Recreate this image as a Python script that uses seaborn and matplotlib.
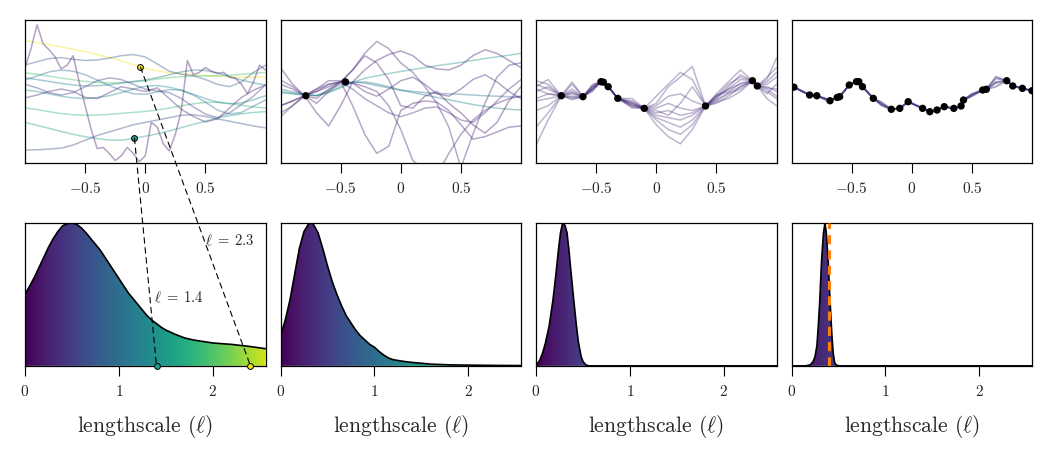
import numpy as np
import matplotlib
matplotlib.use("Agg")
import matplotlib.pyplot as plt
from matplotlib.patches import ConnectionPatch
import seaborn as sns

## data

grid21 = np.linspace(-1, 1, 21)
grid41 = np.linspace(-1, 1, 41)

# panel 1: prior samples, each with its own lengthscale
p1_ells = [2.4, 1.4, 1.7, 1.6, 1.2, 0.9, 0.7, 0.5, 0.6, 0.3, 1.0]
p1_lines = [
    [2.13, 2.05, 1.96, 1.87, 1.77, 1.67, 1.55, 1.42, 1.29, 1.12, 0.96, 0.86, 0.79, 0.74, 0.70, 0.67, 0.64, 0.62, 0.60, 0.60, 0.60],
    [-1.30, -1.42, -1.55, -1.68, -1.80, -1.90, -1.98, -2.04, -2.05, -1.97, -1.88, -1.78, -1.66, -1.52, -1.38, -1.25, -1.12, -1.02, -0.94, -0.88, -0.85],
    [0.78, 0.72, 0.64, 0.56, 0.49, 0.42, 0.38, 0.36, 0.37, 0.40, 0.45, 0.52, 0.58, 0.62, 0.64, 0.65, 0.66, 0.68, 0.72, 0.76, 0.80],
    [-0.69, -0.76, -0.85, -0.93, -0.98, -1.00, -0.99, -0.96, -0.92, -0.88, -0.84, -0.78, -0.70, -0.60, -0.52, -0.46, -0.45, -0.50, -0.58, -0.65, -0.70],
    [0.06, 0.00, -0.10, -0.20, -0.27, -0.30, -0.26, -0.18, -0.05, 0.10, 0.22, 0.25, 0.18, 0.05, -0.12, -0.30, -0.45, -0.52, -0.48, -0.35, -0.18],
    [0.48, 0.65, 0.82, 0.90, 0.85, 0.70, 0.48, 0.25, 0.05, -0.10, -0.12, -0.02, 0.08, 0.05, -0.15, -0.45, -0.78, -0.95, -0.88, -0.62, -0.36],
    [1.11, 1.25, 1.38, 1.42, 1.35, 1.30, 1.32, 1.40, 1.50, 1.55, 1.45, 1.15, 0.85, 0.72, 0.66, 0.50, 0.30, 0.20, 0.40, 0.80, 1.10],
    [0.30, 0.15, -0.05, -0.15, -0.05, 0.20, 0.45, 0.57, 0.50, 0.30, 0.10, 0.02, -0.05, -0.30, -0.65, -0.95, -1.10, -0.90, -0.55, -0.20, 0.28],
    [-2.46, -2.45, -2.42, -2.38, -2.25, -2.05, -1.85, -1.70, -1.55, -1.40, -1.30, -1.20, -1.10, -1.00, -0.98, -1.05, -1.15, -1.25, -1.35, -1.45, -1.53],
    [-0.27, -0.15, 0.00, 0.10, 0.00, -0.25, -0.30, -0.05, 0.20, 0.10, 0.00, 0.15, -0.30, -0.75, -1.05, -1.28, -1.15, -0.70, -0.25, 0.05, 0.27],
    [0.57, 0.50, 0.42, 0.34, 0.27, 0.23, 0.24, 0.28, 0.35, 0.42, 0.48, 0.58, 0.70, 0.82, 0.90, 0.88, 0.78, 0.62, 0.48, 0.36, 0.27],
]
p1_wiggly_ell = 0.15
p1_wiggly = [1.00, 1.80, 2.80, 2.00, 1.75, 1.45, 0.95, 1.10, 1.50, 0.40, -0.60, -1.60, -2.40, -2.35,
             -2.60, -2.90, -2.70, -2.35, -2.60, -2.95, -2.70, -1.30, -1.50, -2.20, -2.50, -1.80, -0.80,
             1.30, 0.70, 0.80, 1.00, 0.85, 0.75, 0.80, 0.60, 0.55, 0.30, -0.10, 0.40, 1.10, 0.90]

# highlighted samples and their lengthscales
hl_ell = [1.4, 2.4]
hl_x = [-0.09, -0.04]
hl_y = [-1.96, 1.02]
hl_text = [r"$\ell\;=\;1.4$", r"$\ell\;=\;2.3$"]
hl_text_pos = [(1.37, 0.48), (1.92, 0.874)]

# panel 2: two observations
p2_x = [-0.79, -0.46]
p2_y = [-0.18, 0.40]
p2_ells = [1.3, 1.1, 0.9, 0.25, 0.3, 0.25, 0.2, 0.2, 0.25, 0.35]
p2_lines = [
    [-0.05, -0.10, -0.15, -0.17, -0.05, 0.15, 0.38, 0.55, 0.65, 0.75, 0.84, 0.92, 1.00, 1.08, 1.15, 1.22, 1.30, 1.38, 1.45, 1.52, 1.60],
    [0.00, -0.08, -0.15, -0.18, -0.02, 0.20, 0.38, 0.40, 0.32, 0.20, 0.06, -0.05, -0.15, -0.25, -0.35, -0.45, -0.55, -0.63, -0.70, -0.75, -0.78],
    [0.10, -0.02, -0.12, -0.18, 0.05, 0.30, 0.40, 0.35, 0.25, 0.15, 0.05, 0.00, -0.05, -0.08, -0.10, -0.12, -0.15, -0.18, -0.20, -0.22, -0.22],
    [-0.60, -0.40, -0.18, 0.10, 0.45, 0.45, 0.35, 0.20, 0.00, -0.60, -1.60, -2.90, -3.30, -3.50, -2.60, -1.80, -1.20, -0.80, -0.50, -0.30, -0.20],
    [0.30, 0.10, -0.18, 0.00, 0.30, 0.40, 0.90, 1.60, 2.10, 1.80, 1.20, 0.80, 0.20, -0.50, -1.50, -3.20, -1.80, -0.50, 0.60, 1.10, 1.20],
    [-0.90, -0.60, -0.18, -0.50, 0.00, 0.40, -0.60, -1.80, -2.60, -2.30, -0.80, -0.50, -0.40, -0.45, -0.80, -1.40, -2.00, -1.90, -1.70, -1.50, -1.45],
    [1.00, 0.30, -0.18, -0.90, -1.45, -0.60, 0.40, 0.90, 1.30, 1.55, 1.70, 1.50, 1.10, 0.95, 0.90, 1.10, 1.50, 1.75, 1.60, 1.30, 1.00],
    [-0.60, -0.40, -0.18, 0.00, 0.20, 0.40, 0.90, 1.50, 1.20, 0.50, -0.60, -0.70, -0.20, 0.00, -0.50, -0.90, -1.40, -1.75, -1.30, -0.40, 0.20],
    [0.48, 0.20, -0.18, -0.30, 0.10, 0.40, 0.35, 0.00, -0.20, 0.10, 0.45, 0.60, 0.30, -0.10, -0.20, 0.10, 0.50, 0.70, 0.40, 0.00, -0.30],
    [-1.06, -0.60, -0.18, 0.10, 0.30, 0.40, 0.10, -0.30, -0.60, -0.90, -1.06, -0.90, -0.70, -0.65, -0.90, -1.20, -1.30, -0.90, -0.40, 0.10, 0.50],
]

# panel 3: ten observations
p3_x = [-0.79, -0.61, -0.46, -0.44, -0.40, -0.32, -0.10, 0.41, 0.80, 0.84]
p3_y = [-0.18, -0.22, 0.41, 0.39, 0.20, -0.29, -0.71, -0.61, 0.45, 0.23]
grid3 = [-1.0, -0.9, -0.79, -0.7, -0.61, -0.53, -0.46, -0.4, -0.32, -0.2, -0.1, 0.0,
         0.1, 0.2, 0.3, 0.41, 0.5, 0.6, 0.7, 0.8, 0.84, 0.92, 1.0]
p3_ell = 0.3
p3_lines = [
    [-2.25, -1.2, -0.18, -0.35, -0.22, 0.1, 0.41, 0.2, -0.29, -0.6, -0.71, -1.4, -1.9, -2.2, -1.6, -0.61, -0.2, 0.1, 0.3, 0.45, 0.23, 0.5, 1.4],
    [0.45, 0.3, -0.18, 0.3, -0.22, 0.2, 0.41, 0.2, -0.29, -0.4, -0.71, -0.5, 0.2, 0.6, 1.05, -0.61, -0.5, -0.2, 0.2, 0.45, 0.23, -0.3, -0.6],
    [-0.3, -0.1, -0.18, -0.05, -0.22, 0.15, 0.41, 0.2, -0.29, -0.7, -0.71, -1.1, -1.3, -1.5, -1.2, -0.61, -0.1, 0.4, 0.9, 0.45, 0.23, 0.3, 0.6],
    [0.2, 0.5, -0.18, 0.4, -0.22, 0.0, 0.41, 0.2, -0.29, -0.3, -0.71, -0.2, 0.3, 0.8, 0.5, -0.61, -0.4, -0.1, 0.1, 0.45, 0.23, 0.0, -0.3],
    [-0.8, -0.6, -0.18, -0.3, -0.22, 0.25, 0.41, 0.2, -0.29, -0.5, -0.71, -0.9, -0.8, -1.0, -0.9, -0.61, -0.35, -0.05, 0.2, 0.45, 0.23, 0.15, 0.1],
    [0.0, 0.2, -0.18, -0.1, -0.22, 0.1, 0.41, 0.2, -0.29, -0.55, -0.71, -0.6, -0.2, -0.1, -0.4, -0.61, -0.2, 0.3, 0.6, 0.45, 0.23, 0.6, 1.0],
    [-1.5, -0.9, -0.18, -0.2, -0.22, 0.3, 0.41, 0.2, -0.29, -0.65, -0.71, -1.2, -1.6, -1.8, -1.4, -0.61, -0.25, 0.1, 0.5, 0.45, 0.23, 0.1, -0.2],
    [0.3, 0.1, -0.18, 0.1, -0.22, 0.05, 0.41, 0.2, -0.29, -0.45, -0.71, -0.7, -0.5, -0.7, -0.8, -0.61, -0.45, -0.3, 0.0, 0.45, 0.23, 0.4, 0.8],
    [-0.4, -0.3, -0.18, 0.0, -0.22, 0.2, 0.41, 0.2, -0.29, -0.6, -0.71, -1.0, -1.1, -1.2, -1.0, -0.61, -0.3, 0.2, 0.7, 0.45, 0.23, -0.1, 0.3],
    [0.1, -0.1, -0.18, -0.25, -0.22, 0.1, 0.41, 0.2, -0.29, -0.5, -0.71, -0.8, -1.0, -0.5, 0.2, -0.61, -0.15, 0.0, 0.35, 0.45, 0.23, 0.2, 0.0],
]

# panel 4: many observations
p4_x = [-0.98, -0.85, -0.79, -0.68, -0.62, -0.60, -0.52, -0.46, -0.44, -0.41, -0.32, -0.17, -0.10, -0.03,
        0.09, 0.15, 0.21, 0.27, 0.35, 0.41, 0.43, 0.59, 0.62, 0.79, 0.84, 0.92, 1.0]
p4_y = [0.18, -0.15, -0.18, -0.39, -0.25, -0.22, 0.27, 0.41, 0.41, 0.20, -0.29, -0.75, -0.71, -0.43,
        -0.71, -0.85, -0.78, -0.64, -0.71, -0.61, -0.36, 0.06, 0.09, 0.45, 0.23, 0.13, 0.03]
grid4 = [-1.0, -0.98, -0.85, -0.79, -0.68, -0.62, -0.60, -0.52, -0.46, -0.44, -0.41, -0.32, -0.25, -0.17,
         -0.10, -0.03, 0.09, 0.15, 0.21, 0.27, 0.35, 0.41, 0.43, 0.50, 0.59, 0.62, 0.70, 0.79, 0.84, 0.92, 1.0]
p4_ell = 0.37
p4_lines = [
    [0.28, 0.18, -0.15, -0.18, -0.39, -0.25, -0.22, 0.27, 0.41, 0.41, 0.20, -0.29, -0.45, -0.75, -0.71, -0.43,
     -0.71, -0.85, -0.78, -0.64, -0.71, -0.61, -0.36, -0.20, 0.06, 0.09, 0.55, 0.45, 0.23, 0.13, 0.03],
    [0.22, 0.18, -0.15, -0.18, -0.45, -0.25, -0.22, 0.27, 0.41, 0.41, 0.20, -0.29, -0.60, -0.75, -0.71, -0.43,
     -0.71, -0.85, -0.78, -0.64, -0.71, -0.61, -0.36, -0.10, 0.06, 0.09, 0.62, 0.45, 0.23, 0.13, 0.03],
    [0.28, 0.18, -0.15, -0.18, -0.39, -0.25, -0.22, 0.27, 0.41, 0.41, 0.20, -0.29, -0.50, -0.75, -0.71, -0.43,
     -0.71, -0.85, -0.78, -0.64, -0.71, -0.61, -0.36, -0.18, 0.06, 0.09, 0.40, 0.45, 0.23, 0.13, 0.03],
    [0.30, 0.18, -0.15, -0.18, -0.35, -0.25, -0.22, 0.27, 0.41, 0.41, 0.20, -0.29, -0.55, -0.75, -0.71, -0.43,
     -0.71, -0.85, -0.78, -0.64, -0.71, -0.61, -0.36, -0.12, 0.06, 0.09, 0.20, 0.45, 0.23, 0.13, 0.03],
    [0.26, 0.18, -0.15, -0.18, -0.39, -0.25, -0.22, 0.27, 0.41, 0.41, 0.20, -0.29, -0.55, -0.75, -0.71, -0.43,
     -0.71, -0.85, -0.78, -0.64, -0.71, -0.61, -0.36, -0.15, 0.06, 0.09, 0.35, 0.45, 0.23, 0.13, 0.03],
]

# lengthscale posteriors (peak-normalised)
post_ell = [
    [0.0, 0.05, 0.1, 0.15, 0.2, 0.25, 0.3, 0.35, 0.4, 0.45, 0.5, 0.55, 0.6, 0.65, 0.7, 0.75, 0.8, 0.85, 0.9, 0.95,
     1.0, 1.05, 1.1, 1.15, 1.2, 1.25, 1.3, 1.35, 1.4, 1.45, 1.5, 1.6, 1.7, 1.8, 1.9, 2.0, 2.2, 2.4, 2.56],
    [0.0, 0.05, 0.1, 0.15, 0.2, 0.25, 0.3, 0.33, 0.35, 0.4, 0.45, 0.5, 0.55, 0.6, 0.65, 0.7, 0.75, 0.8, 0.85,
     0.9, 0.95, 1.0, 1.05, 1.1, 1.15, 1.2, 1.3, 1.4, 1.5, 1.6, 1.8, 2.0, 2.3, 2.56],
    [0.0, 0.04, 0.07, 0.1, 0.14, 0.18, 0.21, 0.24, 0.26, 0.28, 0.29, 0.31, 0.33, 0.35, 0.37, 0.40, 0.43, 0.45,
     0.48, 0.5, 0.53, 0.56, 2.56],
    [0.0, 0.15, 0.2, 0.23, 0.25, 0.27, 0.285, 0.30, 0.32, 0.34, 0.356, 0.37, 0.39, 0.41, 0.43, 0.445, 0.46,
     0.48, 0.52, 2.56],
]
post_dens = [
    [0.50, 0.56, 0.62, 0.69, 0.76, 0.83, 0.89, 0.94, 0.98, 0.995, 1.0, 0.99, 0.965, 0.93, 0.89, 0.85, 0.81,
     0.76, 0.71, 0.66, 0.61, 0.56, 0.51, 0.47, 0.43, 0.39, 0.35, 0.32, 0.295, 0.27, 0.25, 0.22, 0.195, 0.18,
     0.17, 0.16, 0.15, 0.135, 0.12],
    [0.21, 0.32, 0.46, 0.64, 0.82, 0.94, 0.995, 1.0, 0.99, 0.93, 0.82, 0.70, 0.59, 0.50, 0.42, 0.35, 0.30,
     0.25, 0.21, 0.18, 0.15, 0.13, 0.10, 0.075, 0.055, 0.043, 0.032, 0.024, 0.018, 0.012, 0.007, 0.005,
     0.003, 0.002],
    [0.0, 0.04, 0.09, 0.16, 0.28, 0.46, 0.63, 0.82, 0.93, 0.99, 1.0, 0.98, 0.93, 0.81, 0.67, 0.47, 0.28,
     0.17, 0.065, 0.03, 0.007, 0.0, 0.0],
    [0.0, 0.0, 0.007, 0.03, 0.065, 0.14, 0.28, 0.45, 0.74, 0.93, 1.0, 0.93, 0.74, 0.45, 0.21, 0.08, 0.02,
     0.003, 0.0, 0.0],
]
true_ell = 0.40

## style

sns.set_theme(style="ticks")
plt.rcParams["font.family"] = ["cmr10", "DejaVu Serif"]
plt.rcParams["mathtext.fontset"] = "cm"
plt.rcParams["axes.formatter.use_mathtext"] = True
plt.rcParams["axes.unicode_minus"] = False

cmap = plt.get_cmap("viridis")
line_norm = plt.Normalize(0, 2.45)   # colours of samples / markers
fill_norm = plt.Normalize(0, 2.75)   # gradient under the posteriors
XMAX = 2.56
TICK_FS = 11

fig, axes = plt.subplots(2, 4, figsize=(10.52, 4.5), dpi=100)
fig.subplots_adjust(left=0.0238, right=0.981, top=0.9556, bottom=0.187, wspace=0.0625, hspace=0.42)


def style_ax(ax):
    for s in ax.spines.values():
        s.set_visible(True)
        s.set_linewidth(0.9)
        s.set_color("black")
    ax.set_yticks([])
    ax.tick_params(axis="x", direction="out", length=7, width=0.8, labelsize=TICK_FS, pad=6, color="black")
    ax.set_ylabel("")


def sample_line(ax, x, y, ell, alpha=0.4, lw=1.1):
    sns.lineplot(x=x, y=y, ax=ax, color=cmap(line_norm(ell)), alpha=alpha, lw=lw, sort=False, estimator=None)


## top row: function samples
top = axes[0]
for ell, ys in zip(p1_ells, p1_lines):
    sample_line(top[0], grid21, ys, ell)
sample_line(top[0], grid41, p1_wiggly, p1_wiggly_ell)

for ell, ys in zip(p2_ells, p2_lines):
    sample_line(top[1], grid21, ys, ell)
sns.scatterplot(x=p2_x, y=p2_y, ax=top[1], color="black", s=28, edgecolor="none", zorder=5)

for ys in p3_lines:
    sample_line(top[2], grid3, ys, p3_ell, alpha=0.35)
sns.scatterplot(x=p3_x, y=p3_y, ax=top[2], color="black", s=28, edgecolor="none", zorder=5)

for ys in p4_lines:
    sample_line(top[3], grid4, ys, p4_ell, alpha=0.45, lw=1.3)
sns.scatterplot(x=p4_x, y=p4_y, ax=top[3], color="black", s=28, edgecolor="none", zorder=5)

for ax in top:
    ax.set_xlim(-1, 1)
    ax.set_ylim(-3, 3)
    ax.set_xticks([-0.5, 0, 0.5])
    ax.set_xticklabels([r"$-0.5$", r"$0$", r"$0.5$"], fontsize=TICK_FS)
    ax.set_xlabel("")
    style_ax(ax)

## bottom row: lengthscale posteriors with viridis fill
bottom = axes[1]
grad = np.linspace(0, XMAX, 400)[None, :]
for ax, ell, dens in zip(bottom, post_ell, post_dens):
    poly = ax.fill_between(ell, dens, 0, color="none", lw=0)
    im = ax.imshow(grad, extent=(0, XMAX, 0, 1), origin="lower", aspect="auto",
                   cmap=cmap, norm=fill_norm, zorder=1)
    im.set_clip_path(poly.get_paths()[0], transform=ax.transData)
    sns.lineplot(x=ell, y=dens, ax=ax, color="black", lw=1.2, sort=False, estimator=None, zorder=3)
    ax.set_xlim(0, XMAX)
    ax.set_ylim(0, 1.0)
    ax.set_xticks([0, 1, 2])
    ax.set_xticklabels([r"$0$", r"$1$", r"$2$"], fontsize=TICK_FS)
    ax.set_xlabel(r"lengthscale ($\ell$)", fontsize=15.5, labelpad=10)
    style_ax(ax)

bottom[3].axvline(true_ell, color="#ff7f0e", lw=2.2, ls=(0, (3, 2)), zorder=4)

## highlighted samples linked to their lengthscale
for ell, x, y, txt, (tx, ty) in zip(hl_ell, hl_x, hl_y, hl_text, hl_text_pos):
    col = cmap(line_norm(ell))
    con = ConnectionPatch(xyA=(x, y), coordsA=top[0].transData,
                          xyB=(ell, 0), coordsB=bottom[0].transData,
                          color="black", lw=0.8, ls=(0, (5, 4)))
    fig.add_artist(con)
    top[0].plot([x], [y], "o", ms=4.2, mfc=col, mec="black", mew=0.7, zorder=6)
    bottom[0].plot([ell], [0], "o", ms=4.2, mfc=col, mec="black", mew=0.7, zorder=6, clip_on=False)
    bottom[0].text(tx, ty, txt, fontsize=10.5, va="center", ha="left", zorder=6)

fig.savefig("out.png", dpi=100)
